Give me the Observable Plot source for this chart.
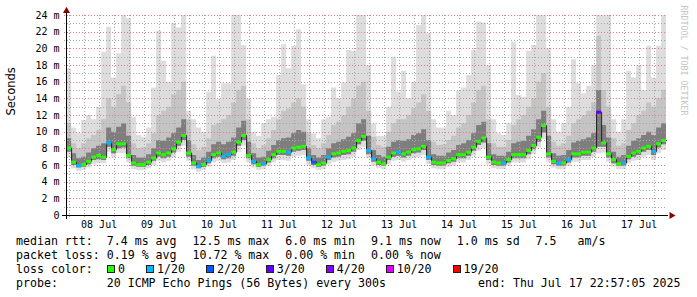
<!DOCTYPE html>
<html><head><meta charset="utf-8">
<script src="https://cdn.jsdelivr.net/npm/d3@7"></script>
<script src="https://cdn.jsdelivr.net/npm/@observablehq/plot@0.6"></script>
<style>
body{margin:0;background:#fff;}
#wrap{position:relative;width:697px;height:297px;overflow:hidden;background:#fff;}
#legend{position:absolute;left:0;top:0;width:697px;height:297px;font-family:"DejaVu Sans Mono",monospace;font-size:11.6px;color:#000;}
.t{position:absolute;white-space:pre;line-height:14px;height:14px;}
.t span.g{margin-left:2px;}
.lc{position:absolute;display:flex;align-items:center;height:14px;white-space:pre;line-height:14px;}
.it{display:flex;align-items:center;margin-right:21px;}
.bx{width:6px;height:6px;border:1px solid #222;margin-right:3px;}
</style></head><body>
<div id="wrap"><div id="chart"></div><div id="legend"></div></div>
<script>
// ---- data (2-hour consolidated bins, from Jul 7 23:00) ----
const med = [
 8.1,6.4,6.0,6.1,6.5,7.0,7.2,7.0,8.7,7.9,
 8.6,8.6,7.2,6.3,6.1,6.1,6.4,6.9,7.5,7.3,
 7.5,8.0,8.8,9.6,7.5,6.3,5.9,6.1,6.6,7.3,
 7.5,7.1,7.3,7.6,8.8,9.6,7.2,6.5,6.1,6.2,
 6.7,7.3,7.7,7.7,7.6,8.1,8.2,8.3,6.9,6.4,
 6.1,6.3,7.0,7.4,7.5,7.7,7.8,8.1,9.0,9.5,
 7.8,6.8,6.4,6.2,7.0,7.5,7.6,7.4,7.6,7.9,
 8.0,8.3,7.0,6.4,6.3,6.3,6.6,6.8,7.3,7.3,
 7.6,8.2,8.9,9.3,7.0,6.4,6.3,6.3,6.7,7.3,
 7.3,7.3,7.8,8.4,9.4,10.8,7.4,6.5,6.3,6.3,
 6.7,7.4,7.4,7.6,7.6,8.1,12.4,8.7,7.4,6.7,
 6.2,6.3,7.1,7.5,7.7,8.1,8.3,7.7,8.6,9.0];
const loss = [
 0,0,1,0,0,0,0,0,1,0,
 0,0,0,0,0,0,0,0,0,0,
 0,0,0,0,0,0,1,0,1,0,
 0,1,1,0,0,0,0,1,0,1,
 0,0,0,0,1,0,0,0,1,2,
 0,0,1,0,0,0,0,0,0,0,
 1,1,0,0,0,0,1,0,0,0,
 0,0,1,0,0,0,0,0,0,0,
 0,0,0,0,0,0,0,1,0,0,
 0,0,0,0,0,0,0,0,1,0,
 1,0,0,0,0,0,3,0,0,0,
 0,1,0,0,0,0,0,1,0,0];
const lo = [
 7.0,5.6,5.3,5.4,5.7,6.1,6.2,6.2,7.6,6.9,
 7.4,7.4,6.3,5.5,5.4,5.4,5.6,6.0,6.5,6.3,
 6.5,6.9,7.6,8.3,6.5,5.5,5.2,5.4,5.8,6.3,
 6.5,6.2,6.3,6.6,7.6,8.3,6.3,5.7,5.4,5.5,
 5.9,6.3,6.6,6.6,6.5,7.0,7.1,7.2,6.0,5.6,
 5.4,5.5,6.1,6.4,6.5,6.6,6.7,7.0,7.8,8.2,
 6.8,5.9,5.6,5.5,6.1,6.5,6.6,6.4,6.6,6.8,
 6.9,7.2,6.1,5.6,5.5,5.5,5.8,5.9,6.3,6.3,
 6.6,7.1,7.7,8.0,6.1,5.6,5.5,5.5,5.9,6.3,
 6.3,6.3,6.7,7.3,8.1,9.1,6.4,5.7,5.5,5.5,
 5.9,6.4,6.4,6.6,6.6,7.0,7.4,7.5,6.4,5.8,
 5.5,5.5,6.2,6.5,6.6,7.0,7.2,6.6,7.4,7.8];
const lo2 = [
 7.6,6.0,5.7,5.8,6.1,6.6,6.7,6.6,8.2,7.4,
 8.0,8.1,6.8,5.9,5.8,5.8,6.0,6.5,7.0,6.8,
 7.0,7.5,8.3,9.0,7.0,5.9,5.6,5.8,6.2,6.8,
 7.0,6.7,6.8,7.1,8.3,9.0,6.8,6.1,5.8,5.9,
 6.3,6.8,7.2,7.2,7.1,7.6,7.7,7.8,6.5,6.0,
 5.8,5.9,6.6,6.9,7.0,7.2,7.3,7.6,8.5,8.9,
 7.3,6.4,6.0,5.9,6.6,7.0,7.1,6.9,7.1,7.4,
 7.5,7.8,6.6,6.0,5.9,5.9,6.2,6.4,6.8,6.8,
 7.1,7.7,8.4,8.7,6.6,6.0,5.9,5.9,6.3,6.8,
 6.8,6.8,7.3,7.9,8.8,9.9,6.9,6.1,5.9,5.9,
 6.3,6.9,6.9,7.1,7.1,7.6,8.2,8.2,6.9,6.2,
 5.9,5.9,6.7,7.0,7.2,7.6,7.8,7.2,8.1,8.5];
const up3 = [
 9.2,7.4,6.8,7.0,7.5,8.0,8.3,8.6,10.5,10.0,
 10.6,11.0,9.5,7.2,6.9,6.9,7.3,8.0,9.0,8.9,
 9.3,9.8,10.5,11.5,9.0,7.2,6.6,6.9,7.6,8.5,
 8.8,8.5,8.8,9.3,10.5,11.3,8.8,7.4,6.9,7.0,
 7.7,8.4,9.0,9.2,9.3,9.8,10.2,10.0,8.0,7.2,
 6.9,7.2,8.0,8.6,8.8,9.1,9.4,9.8,11.0,11.5,
 9.5,7.8,7.2,7.0,8.2,8.8,9.0,8.9,9.1,9.6,
 9.8,10.3,9.0,7.3,7.1,7.1,7.5,7.8,8.4,8.6,
 9.0,9.8,10.8,11.2,8.6,7.3,7.1,7.1,7.6,8.6,
 8.8,8.9,9.5,10.3,11.5,12.5,9.5,7.4,7.1,7.2,
 7.8,8.7,8.9,9.1,9.3,9.8,15.0,10.8,9.3,7.6,
 7.0,7.2,8.3,8.9,9.2,9.6,10.0,9.6,10.5,11.0];
const up2 = [
 11.0,8.6,8.0,8.6,9.2,9.6,10.2,11.5,14.0,13.0,
 14.5,15.5,13.5,8.6,8.0,8.1,8.6,9.8,12.0,12.5,
 13.0,14.5,15.0,16.0,11.5,8.5,7.8,8.2,9.2,10.8,
 11.0,11.5,12.0,13.5,15.0,15.5,11.5,8.6,8.0,8.4,
 9.2,10.2,11.5,12.5,12.8,13.5,14.0,13.0,9.8,8.4,
 8.0,8.6,9.6,10.8,11.2,12.0,13.0,14.0,15.5,16.0,
 12.5,9.4,8.4,8.2,10.0,11.0,11.5,11.5,12.0,12.8,
 13.5,14.5,12.5,8.8,8.4,8.5,9.0,9.5,10.5,11.0,
 12.0,13.5,15.0,15.5,11.5,8.6,8.2,8.2,9.0,10.8,
 11.5,12.0,13.0,14.0,16.0,17.0,13.0,8.8,8.3,8.6,
 9.5,11.0,11.5,12.0,12.5,13.5,21.5,15.0,13.0,9.2,
 8.3,8.6,10.2,11.0,12.0,12.5,13.5,13.0,14.0,15.0];
const hi = [
 17.6,10.5,9.8,11.4,12.0,11.5,13.0,19.6,22.6,16.5,
 19.4,24,23.6,11.8,9.6,9.4,10.5,15.3,22.1,18.5,
 16.0,23.0,22.5,24,12.5,11.5,10.5,10.0,14.8,19.1,
 13.9,15.8,15.8,24,24,20.4,14.0,10.0,9.5,11.0,
 11.5,11.8,16.8,20.5,17.6,20.3,22.3,15.7,11.5,9.8,
 9.2,11.5,11.8,15.3,14.0,15.9,19.8,19.7,24,24,
 18.0,11.0,9.5,9.5,13.0,19.0,14.8,17.3,14.0,16.0,
 22.8,24,21.8,11.5,10.5,10.5,12.5,12.0,14.9,15.3,
 16.8,19.8,23.2,23.1,18.0,11.5,9.8,9.6,11.0,20.8,
 14.4,14.2,19.7,20.4,24,24,20.0,11.5,10.0,11.0,
 13.0,18.7,15.8,14.6,15.5,18.0,24,24,24,11.5,
 10.0,11.5,17.3,16.5,18.0,15.0,20.3,16.5,20.3,24];

const yTickValues = [0,2,4,6,8,10,12,14,16,18,20,22,24];
const yTickLabels = ["0","2 m","4 m","6 m","8 m","10 m","12 m","14 m","16 m","18 m","20 m","22 m","24 m"];
const dayLabels = ["08 Jul","09 Jul","10 Jul","11 Jul","12 Jul","13 Jul","14 Jul","15 Jul","16 Jul","17 Jul"];

const lossLevels = [0,1,2,3,4,10,19];
const lossLabels = ["0","1/20","2/20","3/20","4/20","10/20","19/20"];
const lossColors = ["#26ff00","#00b8ff","#0059ff","#5e00ff","#7e00ff","#dd00ff","#ff0000"];

const rttStats = ["7.4 ms avg","12.5 ms max","6.0 ms min","9.1 ms now","1.0 ms sd","7.5   am/s"];
const lossStats = ["0.19 % avg","10.72 % max","0.00 % min","0.00 % now"];
const probeText = "20 ICMP Echo Pings (56 Bytes) every 300s";
const endText = "end: Thu Jul 17 22:57:05 2025";

// ---- build ----
const H = 3600e3;
const start = new Date(Date.UTC(2025,6,7,22,57,5));
const end = new Date(Date.UTC(2025,6,17,22,57,5));
const firstBin = Date.UTC(2025,6,7,23);
const plotW = 600;
const msPerPx = (end - start) / plotW;
const rows = med.map((m,i) => ({
  t: new Date(Math.max(+start, firstBin + i*2*H)),
  t1: new Date(Math.min(+end, firstBin + (i+1)*2*H)),
  med: m, loss: loss[i], lo: lo[i], lo2: lo2[i], up3: up3[i], up2: up2[i], hi: hi[i]
}));
const lastRow = rows[rows.length-1];
const stepRows = rows.concat([{...lastRow, t: lastRow.t1}]);

const sixH = d3.utcHour.every(6).range(start, end);
const majorX = sixH.filter(d => d.getUTCHours() === 0);
const minorX = sixH.filter(d => d.getUTCHours() !== 0);
const noons = majorX.map(d => new Date(+d + 12*H));
const majorY = d3.range(2, 25, 2);
const minorY = d3.range(1, 24, 2);
const gridLeft = new Date(+start - 2*msPerPx);
const tickBelow = -2 / (200/24);

const lossMarks = lossLevels.map((lv, i) =>
  Plot.ruleY(rows.filter(r => r.loss === lv), {y: "med", x1: "t", x2: "t1", stroke: lossColors[i], strokeWidth: 3})
);

const chart = Plot.plot({
  width: 697, height: 232,
  marginLeft: 66, marginRight: 31, marginTop: 15, marginBottom: 17,
  x: {type: "utc", domain: [start, end], axis: null},
  y: {type: "linear", domain: [0, 24], axis: null},
  style: {fontFamily: "'DejaVu Sans Mono', monospace", fontSize: "10px", background: "#fff", overflow: "visible", color: "#000"},
  marks: [
    Plot.areaY(stepRows, {x: "t", y1: "lo", y2: "hi", curve: "step-after", fill: "#dddddd"}),
    Plot.areaY(stepRows, {x: "t", y1: "lo2", y2: "up2", curve: "step-after", fill: "#c4c4c4"}),
    Plot.areaY(stepRows, {x: "t", y1: "lo2", y2: "up3", curve: "step-after", fill: "#7e7e7e"}),
    Plot.ruleY(minorY, {y: d => d, x1: gridLeft, x2: end, stroke: "#a8a8a8", strokeDasharray: "1,2", shapeRendering: "crispEdges"}),
    Plot.ruleX(minorX, {x: d => d, y1: tickBelow, y2: 24, stroke: "#a8a8a8", strokeDasharray: "1,2", shapeRendering: "crispEdges"}),
    Plot.ruleY(majorY, {y: d => d, x1: gridLeft, x2: end, stroke: "#e57f7f", strokeDasharray: "1,2", shapeRendering: "crispEdges"}),
    Plot.ruleX(majorX, {x: d => d, y1: tickBelow, y2: 24, stroke: "#e57f7f", strokeDasharray: "1,2", shapeRendering: "crispEdges"}),
    Plot.line(stepRows, {x: "t", y: "med", curve: "step-after", stroke: "#202020", strokeWidth: 1}),
    ...lossMarks,
    Plot.ruleY([0], {x1: new Date(+start - 4*msPerPx), x2: new Date(+end + 2*msPerPx), stroke: "#000", shapeRendering: "crispEdges"}),
    Plot.ruleX([start], {y1: -4/(200/24), y2: 24.5, stroke: "#000", shapeRendering: "crispEdges"}),
    Plot.dot([start], {x: d => d, y: 24.55, symbol: "triangle", r: 2.6, fill: "#8b0000", stroke: "none"}),
    Plot.dot([end], {x: d => new Date(+d + 5*msPerPx), y: 0, symbol: "triangle", r: 2.6, rotate: 90, fill: "#8b0000", stroke: "none"}),
    Plot.text(yTickValues, {y: d => d, text: (d, i) => yTickLabels[i], frameAnchor: "left", textAnchor: "end", dx: -7, fill: "#000", fontSize: 10}),
    Plot.text(noons, {x: d => d, text: (d, i) => dayLabels[i], frameAnchor: "bottom", dy: 9, lineAnchor: "middle", fill: "#000", fontSize: 10}),
    Plot.text(["Seconds"], {text: d => d, frameAnchor: "left", rotate: -90, dx: -55, fontFamily: "'DejaVu Sans', sans-serif", fontSize: 11.5, fill: "#000"}),
    Plot.text(["RRDTOOL / TOBI OETIKER"], {text: d => d, frameAnchor: "top-right", rotate: 90, textAnchor: "start", dx: 20, dy: -10, fill: "#c4c4c4", fontSize: 8.3})
  ]
});
document.getElementById("chart").appendChild(chart);

// ---- legend below ----
const L = document.getElementById("legend");
function line(parts, left, top) {
  const d = document.createElement("div");
  d.className = "t"; d.style.left = left + "px"; d.style.top = top + "px";
  parts.forEach((p, i) => {
    const s = document.createElement("span");
    if (i > 1) s.className = "g";
    s.textContent = p; d.appendChild(s);
  });
  L.appendChild(d); return d;
}
line(["median rtt:"].concat(rttStats.map((s, i) => "  " + s)), 16, 234);
line(["packet loss:"].concat(lossStats.map((s, i) => (i === 0 ? " " : "  ") + s)), 16, 248);
line(["loss color:"], 16, 262);
const lc = document.createElement("div");
lc.className = "lc"; lc.style.left = "107px"; lc.style.top = "262px";
lossLabels.forEach((lab, i) => {
  const it = document.createElement("div"); it.className = "it";
  const b = document.createElement("div"); b.className = "bx"; b.style.background = lossColors[i];
  const s = document.createElement("span"); s.textContent = lab;
  it.appendChild(b); it.appendChild(s); lc.appendChild(it);
});
L.appendChild(lc);
line(["probe:       " + probeText], 16, 276);
line([endText], 478, 276);
</script>
</body></html>
